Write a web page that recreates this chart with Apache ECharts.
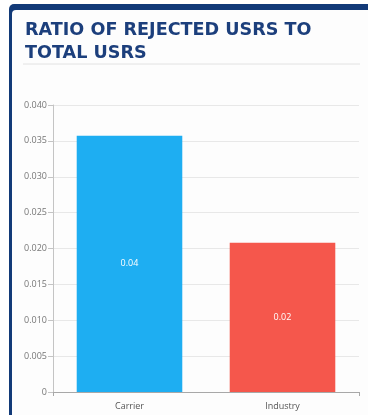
<!DOCTYPE html>
<html>
<head>
<meta charset="utf-8">
<script src="https://cdn.jsdelivr.net/npm/echarts@6/dist/echarts.min.js"></script>
<style>
html,body{margin:0;padding:0;background:#ffffff;}
#c{width:368px;height:415px;}
</style>
</head>
<body>
<div id="c"></div>
<script>
const titleLines = ["RATIO OF REJECTED USRS TO", "TOTAL USRS"];
const categories = ["Carrier", "Industry"];
const values = [0.0357, 0.0208];
const barColors = ["#1eaef2", "#f5574c"];
const yTicks = [0, 0.005, 0.01, 0.015, 0.02, 0.025, 0.03, 0.035, 0.04];

const chart = echarts.init(document.getElementById('c'), null, {renderer: 'canvas'});
chart.setOption({
  animation: false,
  backgroundColor: '#ffffff',
  graphic: [
    {type: 'rect', shape: {x: 9, y: 4, width: 400, height: 420, r: [5, 0, 0, 0]}, style: {fill: '#123a78'}, z: -10},
    {type: 'rect', shape: {x: 12, y: 10, width: 400, height: 420, r: [4, 0, 0, 0]}, style: {fill: '#fdfdfd'}, z: -9},
    {type: 'text', left: 25, top: 19, style: {text: titleLines.join('\n'), font: 'bold 17.6px "DejaVu Sans"', fill: '#1c3f7c', lineHeight: 23}, z: 5},
    {type: 'line', shape: {x1: 23, y1: 64, x2: 360, y2: 64}, style: {stroke: '#e2e2e2', lineWidth: 1}, z: 5}
  ],
  grid: {left: 53, right: 9, top: 105, bottom: 23, containLabel: false},
  xAxis: {
    type: 'category',
    data: categories,
    axisLine: {lineStyle: {color: '#a8a8a8', width: 1}},
    axisTick: {show: true, length: 4, lineStyle: {color: '#a8a8a8'}, interval: function (i) { return i === 1; }},
    axisLabel: {color: '#555', fontSize: 9, fontFamily: 'Open Sans', margin: 10}
  },
  yAxis: {
    type: 'value',
    min: 0, max: 0.04, interval: 0.005,
    axisLine: {show: true, lineStyle: {color: '#c4c4c4'}},
    axisTick: {show: true, length: 5, lineStyle: {color: '#c4c4c4'}},
    splitLine: {lineStyle: {color: '#e8e8e8'}},
    axisLabel: {color: '#777', fontSize: 9, fontFamily: 'Open Sans', margin: 6,
      formatter: function (v) { return v === 0 ? '0' : v.toFixed(3); }}
  },
  series: [{
    type: 'bar',
    data: values.map((v, i) => ({value: v, itemStyle: {color: barColors[i]}})),
    barWidth: '69%',
    label: {show: true, position: 'inside', color: '#ffffff', fontSize: 9, fontFamily: 'Open Sans',
      formatter: function (p) { return p.value.toFixed(2); }}
  }]
});
</script>
</body>
</html>
